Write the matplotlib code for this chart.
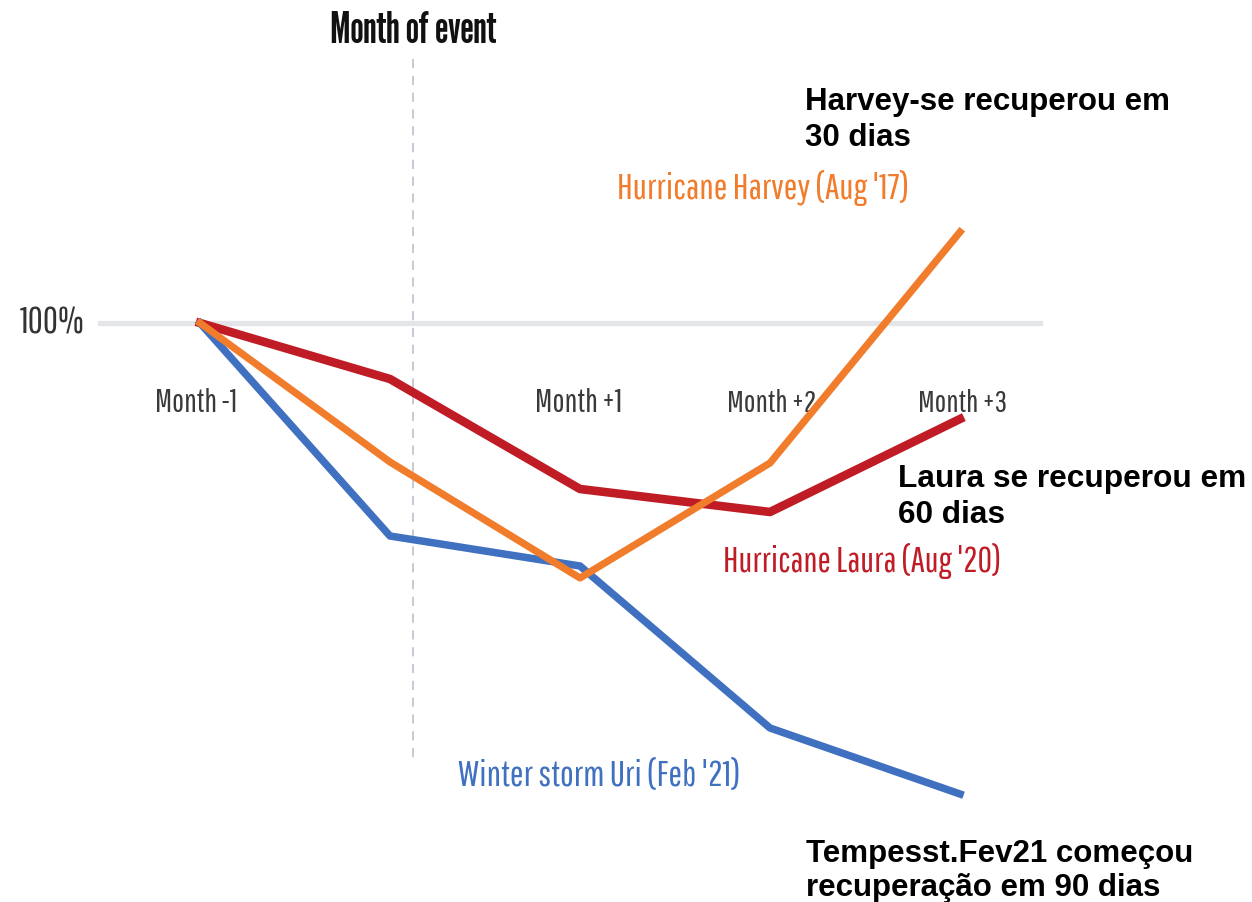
import matplotlib
matplotlib.use("Agg")
import matplotlib.pyplot as plt

# Datos (índice, 100% = mes anterior al evento)
meses = [-1, 0, 1, 2, 3]
etiquetas_meses = ["Month -1", "Month +1", "Month +2", "Month +3"]

laura = [100, 94.4, 83.4, 81.1, 90.4]
harvey = [100, 86.1, 74.5, 86.0, 109.1]
uri = [100, 78.7, 75.7, 59.5, 52.9]

fina = ["Pathway Gothic One", "Roboto Condensed", "DejaVu Sans"]
titulo = ["League Gothic", "Roboto Condensed", "DejaVu Sans"]
negrita = ["Liberation Sans", "DejaVu Sans"]

W, H = 1252, 903
fig = plt.figure(figsize=(W / 100, H / 100), dpi=100)
ax = fig.add_axes([0, 0, 1, 1])
ax.set_xlim(-390 / 190, (W - 390) / 190)
ax.set_ylim(100 - (H - 324) / 10, 100 + 324 / 10)
ax.axis("off")
rend = fig.canvas.get_renderer()


# posiciones de texto en pixeles -> datos
def px(x):
    return (x - 390) / 190


def py(y):
    return 100 - (y - 324) / 10


def texto(x0, x1, y, s, fam, color, ha="center"):
    # ajustar el tamaño para que el ancho coincida con la referencia
    x = (x0 + x1) / 2 if ha == "center" else (x1 if ha == "right" else x0)
    t = ax.text(px(x), py(y), s, family=fam, fontsize=20, ha=ha,
                va="center", color=color)
    w = t.get_window_extent(rend).width
    t.set_fontsize(20 * (x1 - x0) / w)
    return t


ax.plot([px(100), px(1040)], [100, 100], color="#e4e5e8", lw=3.8, zorder=1)
ax.plot([px(413), px(413)], [py(60), py(760)], color="#b8bcc6", lw=1.1,
        ls=(0, (6, 5)), zorder=1)

ax.plot(meses, uri, color="#4070c0", lw=5.4, zorder=3)
ax.plot(meses, harvey, color="#f07c2c", lw=5.2, zorder=4)
ax.plot(meses, laura, color="#c01c26", lw=6.2, zorder=2)

texto(330, 496, 31, "Month of event", titulo, "#111111")
texto(20, 85, 323, "100%", fina, "#333333", ha="right")
cajas = [(155, 237), (535, 622), (727, 816), (918, 1007)]
for (a, b), t in zip(cajas, etiquetas_meses):
    texto(a, b, 403, t, fina, "#3a3a3a")

texto(617, 908, 188, "Hurricane Harvey (Aug '17)", fina, "#f07c2c", ha="left")
texto(723, 1000, 561, "Hurricane Laura (Aug '20)", fina, "#c01c26", ha="left")
texto(458, 740, 776, "Winter storm Uri (Feb '21)", fina, "#4070c0", ha="left")

ax.text(px(805), py(87), "Harvey-se recuperou em\n30 dias", family=negrita,
        fontweight="bold", fontsize=22.5, ha="left", va="top", linespacing=1.25)
ax.text(px(898), py(464), "Laura se recuperou em\n60 dias", family=negrita,
        fontweight="bold", fontsize=22.8, ha="left", va="top", linespacing=1.25)
ax.text(px(806), py(839), "Tempesst.Fev21 começou\nrecuperação em 90 dias",
        family=negrita, fontweight="bold", fontsize=22.5, ha="left", va="top",
        linespacing=1.18)

fig.savefig("out.png", dpi=100)
